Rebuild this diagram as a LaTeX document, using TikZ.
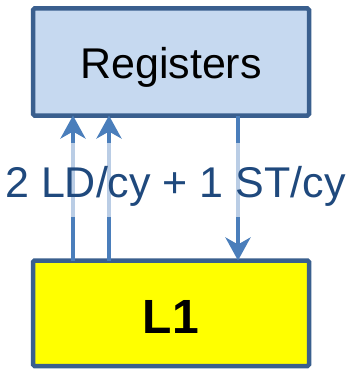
\documentclass[tikz,border=0pt]{standalone}
\usepackage{fontspec}
\setmainfont{Liberation Sans}
\usetikzlibrary{arrows.meta}
\definecolor{boxborder}{HTML}{3A5F8E}
\definecolor{regfill}{HTML}{C6D9F0}
\definecolor{l1fill}{HTML}{FFFF00}
\definecolor{arrowblue}{HTML}{4A7EBB}
\definecolor{labelblue}{HTML}{1F497D}
\tikzset{
  unitbox/.style={draw=boxborder, line width=4.5pt, rounded corners=1.5pt,
    minimum width=276pt, outer sep=0pt, inner sep=0pt, text depth=0pt},
  regbox/.style={unitbox, fill=regfill, minimum height=107pt,
    text height=32pt},
  cachebox/.style={unitbox, fill=l1fill, minimum height=105.5pt,
    text height=39.5pt},
  flow/.style={draw=arrowblue, line width=4.5pt,
    -{Stealth[length=23pt, width=25pt, inset=7pt]}},
  ratelabel/.style={fill=white, fill opacity=0.62, text opacity=1,
    text=labelblue, inner xsep=1pt, inner ysep=0pt,
    text height=54pt, text depth=20pt,
    font=\fontsize{43}{50}\selectfont}
}
\begin{document}
\begin{tikzpicture}[x=1pt, y=-1pt]
  \useasboundingbox (0,0) rectangle (355,369);
  % the two storage levels
  \node[regbox] (reg) at (171,62)
    {\fontsize{43}{50}\selectfont Registers};
  \node[cachebox] (l1) at (171,313.25)
    {\fontsize{48}{56}\selectfont\bfseries L1};
  % load and store paths
  \coordinate (ld1) at (73,0);
  \coordinate (ld2) at (109,0);
  \coordinate (st)  at (238,0);
  \draw[flow] (ld1 |- l1.north) -- (ld1 |- reg.south);
  \draw[flow] (ld2 |- l1.north) -- (ld2 |- reg.south);
  \draw[flow] (st |- reg.south) -- (st |- l1.north);
  % bandwidth label over the paths
  \node[ratelabel, anchor=base] (rate) at (175.5,197) {2 LD/cy + 1 ST/cy};
\end{tikzpicture}
\end{document}
